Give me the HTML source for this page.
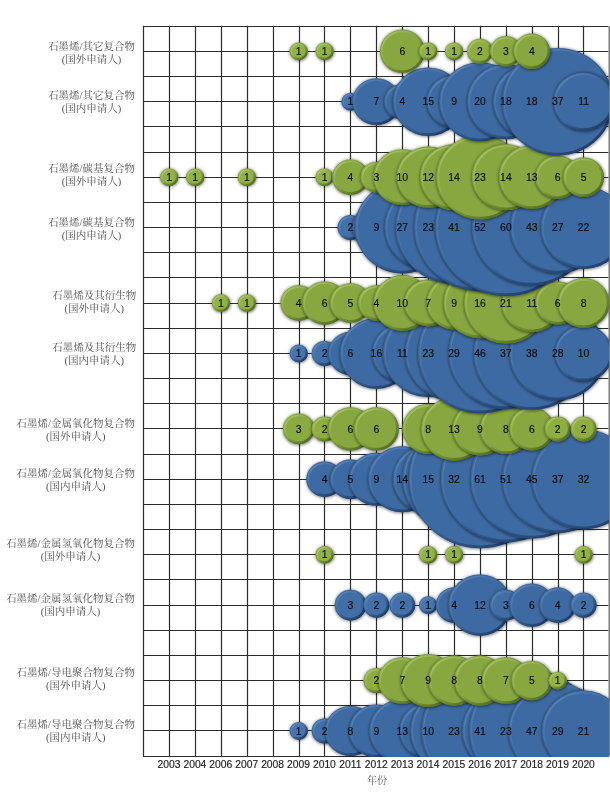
<!DOCTYPE html>
<html lang="zh"><head><meta charset="utf-8"><title>石墨烯复合物专利申请气泡图</title>
<style>html,body{margin:0;padding:0;background:#fff}body{width:610px;height:800px;overflow:hidden;font-family:"Liberation Sans",sans-serif}svg{display:block;will-change:transform}text{font-family:"Liberation Sans",sans-serif}.n{font-size:10.4px;fill:#0c0c0c;stroke:#0c0c0c;stroke-width:.14px;text-anchor:middle}.y{font-size:10.3px;fill:#1a1a1a;stroke:#1a1a1a;stroke-width:.15px;text-anchor:middle}.h{font-family:"Liberation Serif","Noto Serif CJK SC",serif;font-size:10.5px;fill:#505050}</style></head><body>
<svg width="610" height="800" viewBox="0 0 610 800">
<defs>
<linearGradient id="rb" x1="0.15" y1="0.12" x2="0.85" y2="0.88"><stop offset="0" stop-color="#86b0e2" stop-opacity="0.32"/><stop offset="0.3" stop-color="#6a98d0" stop-opacity="0.15"/><stop offset="0.45" stop-color="#3f6a9f" stop-opacity="0"/><stop offset="0.6" stop-color="#1e3f6e" stop-opacity="0.3"/><stop offset="1" stop-color="#1a3864" stop-opacity="0.85"/></linearGradient>
<linearGradient id="rg" x1="0.15" y1="0.12" x2="0.85" y2="0.88"><stop offset="0" stop-color="#cfe88a" stop-opacity="0.4"/><stop offset="0.3" stop-color="#b6d56c" stop-opacity="0.2"/><stop offset="0.45" stop-color="#83a043" stop-opacity="0"/><stop offset="0.6" stop-color="#52701e" stop-opacity="0.3"/><stop offset="1" stop-color="#4c681c" stop-opacity="0.85"/></linearGradient>
<filter id="bl" x="0" y="0" width="100%" height="100%" filterUnits="userSpaceOnUse"><feGaussianBlur stdDeviation="0.4"/></filter>
<filter id="sh" x="-20%" y="-20%" width="150%" height="150%"><feGaussianBlur stdDeviation="1.4"/></filter>
<clipPath id="cp"><rect x="143.60" y="26.15" width="464.90" height="729.93"/></clipPath>
</defs>
<rect width="610" height="800" fill="#fff"/>
<path d="M143.5 25.65V756.58M169.5 25.65V756.58M195.5 25.65V756.58M221.5 25.65V756.58M247.5 25.65V756.58M273.5 25.65V756.58M299.5 25.65V756.58M324.5 25.65V756.58M350.5 25.65V756.58M376.5 25.65V756.58M402.5 25.65V756.58M428.5 25.65V756.58M454.5 25.65V756.58M480.5 25.65V756.58M506.5 25.65V756.58M532.5 25.65V756.58M558.5 25.65V756.58M583.5 25.65V756.58M143.10 26.5H608.50M143.10 51.5H608.50M143.10 76.5H608.50M143.10 101.5H608.50M143.10 126.5H608.50M143.10 152.5H608.50M143.10 177.5H608.50M143.10 202.5H608.50M143.10 227.5H608.50M143.10 252.5H608.50M143.10 277.5H608.50M143.10 303.5H608.50M143.10 328.5H608.50M143.10 353.5H608.50M143.10 378.5H608.50M143.10 403.5H608.50M143.10 428.5H608.50M143.10 454.5H608.50M143.10 479.5H608.50M143.10 504.5H608.50M143.10 529.5H608.50M143.10 554.5H608.50M143.10 579.5H608.50M143.10 605.5H608.50M143.10 630.5H608.50M143.10 655.5H608.50M143.10 680.5H608.50M143.10 705.5H608.50M143.10 730.5H608.50M143.10 756.5H608.50" fill="none" stroke="#2b2b2b" stroke-width="1.2"/>
<path d="M609.30 26.15V756.08" stroke="#7c7c7c" stroke-width="1.6" fill="none"/>
<g clip-path="url(#cp)"><g filter="url(#bl)">
<ellipse cx="299.0" cy="731.4" rx="9.7" ry="9.4" fill="#000" opacity="0.5" filter="url(#sh)"/>
<ellipse cx="298.7" cy="730.9" rx="9.1" ry="8.8" fill="#4674ae"/>
<ellipse cx="298.7" cy="730.9" rx="7.88" ry="7.59" fill="none" stroke="url(#rb)" stroke-width="2.47"/>
<ellipse cx="298.7" cy="730.9" rx="8.67" ry="8.38" fill="none" stroke="#1d3a66" stroke-opacity="0.4" stroke-width="0.8"/>
<ellipse cx="324.9" cy="731.4" rx="13.5" ry="13.1" fill="#000" opacity="0.5" filter="url(#sh)"/>
<ellipse cx="324.6" cy="730.9" rx="12.9" ry="12.5" fill="#4371a9"/>
<ellipse cx="324.6" cy="730.9" rx="11.55" ry="11.14" fill="none" stroke="url(#rb)" stroke-width="2.70"/>
<ellipse cx="324.6" cy="730.9" rx="12.45" ry="12.04" fill="none" stroke="#1d3a66" stroke-opacity="0.4" stroke-width="0.8"/>
<ellipse cx="350.8" cy="731.4" rx="26.4" ry="25.6" fill="#000" opacity="0.5" filter="url(#sh)"/>
<ellipse cx="350.5" cy="730.9" rx="25.8" ry="25.0" fill="#3e6ba2"/>
<ellipse cx="350.5" cy="730.9" rx="24.45" ry="23.63" fill="none" stroke="url(#rb)" stroke-width="2.70"/>
<ellipse cx="350.5" cy="730.9" rx="25.35" ry="24.53" fill="none" stroke="#1d3a66" stroke-opacity="0.4" stroke-width="0.8"/>
<ellipse cx="376.7" cy="731.4" rx="28.0" ry="27.1" fill="#000" opacity="0.5" filter="url(#sh)"/>
<ellipse cx="376.4" cy="730.9" rx="27.4" ry="26.5" fill="#3e6ba2"/>
<ellipse cx="376.4" cy="730.9" rx="26.01" ry="25.14" fill="none" stroke="url(#rb)" stroke-width="2.70"/>
<ellipse cx="376.4" cy="730.9" rx="26.91" ry="26.04" fill="none" stroke="#1d3a66" stroke-opacity="0.4" stroke-width="0.8"/>
<ellipse cx="402.6" cy="731.4" rx="33.5" ry="32.4" fill="#000" opacity="0.5" filter="url(#sh)"/>
<ellipse cx="402.3" cy="730.9" rx="32.9" ry="31.8" fill="#3e6ba2"/>
<ellipse cx="402.3" cy="730.9" rx="31.53" ry="30.49" fill="none" stroke="url(#rb)" stroke-width="2.70"/>
<ellipse cx="402.3" cy="730.9" rx="32.43" ry="31.39" fill="none" stroke="#1d3a66" stroke-opacity="0.4" stroke-width="0.8"/>
<ellipse cx="428.5" cy="731.4" rx="29.4" ry="28.5" fill="#000" opacity="0.5" filter="url(#sh)"/>
<ellipse cx="428.2" cy="730.9" rx="28.8" ry="27.9" fill="#3e6ba2"/>
<ellipse cx="428.2" cy="730.9" rx="27.49" ry="26.57" fill="none" stroke="url(#rb)" stroke-width="2.70"/>
<ellipse cx="428.2" cy="730.9" rx="28.39" ry="27.47" fill="none" stroke="#1d3a66" stroke-opacity="0.4" stroke-width="0.8"/>
<ellipse cx="454.4" cy="731.4" rx="44.3" ry="42.9" fill="#000" opacity="0.5" filter="url(#sh)"/>
<ellipse cx="454.1" cy="730.9" rx="43.7" ry="42.3" fill="#3e6ba2"/>
<ellipse cx="454.1" cy="730.9" rx="42.39" ry="41.00" fill="none" stroke="url(#rb)" stroke-width="2.70"/>
<ellipse cx="454.1" cy="730.9" rx="43.29" ry="41.90" fill="none" stroke="#1d3a66" stroke-opacity="0.4" stroke-width="0.8"/>
<ellipse cx="480.3" cy="731.4" rx="59.0" ry="57.1" fill="#000" opacity="0.5" filter="url(#sh)"/>
<ellipse cx="480.0" cy="730.9" rx="58.4" ry="56.5" fill="#3e6ba2"/>
<ellipse cx="480.0" cy="730.9" rx="57.05" ry="55.19" fill="none" stroke="url(#rb)" stroke-width="2.70"/>
<ellipse cx="480.0" cy="730.9" rx="57.95" ry="56.09" fill="none" stroke="#1d3a66" stroke-opacity="0.4" stroke-width="0.8"/>
<ellipse cx="506.2" cy="731.4" rx="44.3" ry="42.9" fill="#000" opacity="0.5" filter="url(#sh)"/>
<ellipse cx="505.9" cy="730.9" rx="43.7" ry="42.3" fill="#3e6ba2"/>
<ellipse cx="505.9" cy="730.9" rx="42.39" ry="41.00" fill="none" stroke="url(#rb)" stroke-width="2.70"/>
<ellipse cx="505.9" cy="730.9" rx="43.29" ry="41.90" fill="none" stroke="#1d3a66" stroke-opacity="0.4" stroke-width="0.8"/>
<ellipse cx="532.1" cy="731.4" rx="63.1" ry="61.1" fill="#000" opacity="0.5" filter="url(#sh)"/>
<ellipse cx="531.8" cy="730.9" rx="62.5" ry="60.5" fill="#3e6ba2"/>
<ellipse cx="531.8" cy="730.9" rx="61.17" ry="59.19" fill="none" stroke="url(#rb)" stroke-width="2.70"/>
<ellipse cx="531.8" cy="730.9" rx="62.07" ry="60.09" fill="none" stroke="#1d3a66" stroke-opacity="0.4" stroke-width="0.8"/>
<ellipse cx="558.0" cy="731.4" rx="49.7" ry="48.2" fill="#000" opacity="0.5" filter="url(#sh)"/>
<ellipse cx="557.7" cy="730.9" rx="49.1" ry="47.6" fill="#3e6ba2"/>
<ellipse cx="557.7" cy="730.9" rx="47.76" ry="46.20" fill="none" stroke="url(#rb)" stroke-width="2.70"/>
<ellipse cx="557.7" cy="730.9" rx="48.66" ry="47.10" fill="none" stroke="#1d3a66" stroke-opacity="0.4" stroke-width="0.8"/>
<ellipse cx="583.9" cy="731.4" rx="42.4" ry="41.1" fill="#000" opacity="0.5" filter="url(#sh)"/>
<ellipse cx="583.6" cy="730.9" rx="41.8" ry="40.5" fill="#3e6ba2"/>
<ellipse cx="583.6" cy="730.9" rx="40.44" ry="39.11" fill="none" stroke="url(#rb)" stroke-width="2.70"/>
<ellipse cx="583.6" cy="730.9" rx="41.34" ry="40.01" fill="none" stroke="#1d3a66" stroke-opacity="0.4" stroke-width="0.8"/>
<ellipse cx="376.7" cy="681.1" rx="13.5" ry="13.1" fill="#000" opacity="0.5" filter="url(#sh)"/>
<ellipse cx="376.4" cy="680.6" rx="12.9" ry="12.5" fill="#8fad43"/>
<ellipse cx="376.4" cy="680.6" rx="11.55" ry="11.14" fill="none" stroke="url(#rg)" stroke-width="2.70"/>
<ellipse cx="376.4" cy="680.6" rx="12.45" ry="12.04" fill="none" stroke="#4f6a1e" stroke-opacity="0.4" stroke-width="0.8"/>
<ellipse cx="402.6" cy="681.1" rx="24.7" ry="24.0" fill="#000" opacity="0.5" filter="url(#sh)"/>
<ellipse cx="402.3" cy="680.6" rx="24.1" ry="23.4" fill="#89a740"/>
<ellipse cx="402.3" cy="680.6" rx="22.78" ry="22.01" fill="none" stroke="url(#rg)" stroke-width="2.70"/>
<ellipse cx="402.3" cy="680.6" rx="23.68" ry="22.91" fill="none" stroke="#4f6a1e" stroke-opacity="0.4" stroke-width="0.8"/>
<ellipse cx="428.5" cy="681.1" rx="28.0" ry="27.1" fill="#000" opacity="0.5" filter="url(#sh)"/>
<ellipse cx="428.2" cy="680.6" rx="27.4" ry="26.5" fill="#89a740"/>
<ellipse cx="428.2" cy="680.6" rx="26.01" ry="25.14" fill="none" stroke="url(#rg)" stroke-width="2.70"/>
<ellipse cx="428.2" cy="680.6" rx="26.91" ry="26.04" fill="none" stroke="#4f6a1e" stroke-opacity="0.4" stroke-width="0.8"/>
<ellipse cx="454.4" cy="681.1" rx="26.4" ry="25.6" fill="#000" opacity="0.5" filter="url(#sh)"/>
<ellipse cx="454.1" cy="680.6" rx="25.8" ry="25.0" fill="#89a740"/>
<ellipse cx="454.1" cy="680.6" rx="24.45" ry="23.63" fill="none" stroke="url(#rg)" stroke-width="2.70"/>
<ellipse cx="454.1" cy="680.6" rx="25.35" ry="24.53" fill="none" stroke="#4f6a1e" stroke-opacity="0.4" stroke-width="0.8"/>
<ellipse cx="480.3" cy="681.1" rx="26.4" ry="25.6" fill="#000" opacity="0.5" filter="url(#sh)"/>
<ellipse cx="480.0" cy="680.6" rx="25.8" ry="25.0" fill="#89a740"/>
<ellipse cx="480.0" cy="680.6" rx="24.45" ry="23.63" fill="none" stroke="url(#rg)" stroke-width="2.70"/>
<ellipse cx="480.0" cy="680.6" rx="25.35" ry="24.53" fill="none" stroke="#4f6a1e" stroke-opacity="0.4" stroke-width="0.8"/>
<ellipse cx="506.2" cy="681.1" rx="24.7" ry="24.0" fill="#000" opacity="0.5" filter="url(#sh)"/>
<ellipse cx="505.9" cy="680.6" rx="24.1" ry="23.4" fill="#89a740"/>
<ellipse cx="505.9" cy="680.6" rx="22.78" ry="22.01" fill="none" stroke="url(#rg)" stroke-width="2.70"/>
<ellipse cx="505.9" cy="680.6" rx="23.68" ry="22.91" fill="none" stroke="#4f6a1e" stroke-opacity="0.4" stroke-width="0.8"/>
<ellipse cx="532.1" cy="681.1" rx="21.0" ry="20.3" fill="#000" opacity="0.5" filter="url(#sh)"/>
<ellipse cx="531.8" cy="680.6" rx="20.4" ry="19.7" fill="#89a740"/>
<ellipse cx="531.8" cy="680.6" rx="19.04" ry="18.39" fill="none" stroke="url(#rg)" stroke-width="2.70"/>
<ellipse cx="531.8" cy="680.6" rx="19.94" ry="19.29" fill="none" stroke="#4f6a1e" stroke-opacity="0.4" stroke-width="0.8"/>
<ellipse cx="558.0" cy="681.1" rx="9.7" ry="9.4" fill="#000" opacity="0.5" filter="url(#sh)"/>
<ellipse cx="557.7" cy="680.6" rx="9.1" ry="8.8" fill="#92b146"/>
<ellipse cx="557.7" cy="680.6" rx="7.88" ry="7.59" fill="none" stroke="url(#rg)" stroke-width="2.47"/>
<ellipse cx="557.7" cy="680.6" rx="8.67" ry="8.38" fill="none" stroke="#4f6a1e" stroke-opacity="0.4" stroke-width="0.8"/>
<ellipse cx="350.8" cy="605.6" rx="16.4" ry="15.9" fill="#000" opacity="0.5" filter="url(#sh)"/>
<ellipse cx="350.5" cy="605.1" rx="15.8" ry="15.3" fill="#416ea5"/>
<ellipse cx="350.5" cy="605.1" rx="14.45" ry="13.94" fill="none" stroke="url(#rb)" stroke-width="2.70"/>
<ellipse cx="350.5" cy="605.1" rx="15.35" ry="14.84" fill="none" stroke="#1d3a66" stroke-opacity="0.4" stroke-width="0.8"/>
<ellipse cx="376.7" cy="605.6" rx="13.5" ry="13.1" fill="#000" opacity="0.5" filter="url(#sh)"/>
<ellipse cx="376.4" cy="605.1" rx="12.9" ry="12.5" fill="#4371a9"/>
<ellipse cx="376.4" cy="605.1" rx="11.55" ry="11.14" fill="none" stroke="url(#rb)" stroke-width="2.70"/>
<ellipse cx="376.4" cy="605.1" rx="12.45" ry="12.04" fill="none" stroke="#1d3a66" stroke-opacity="0.4" stroke-width="0.8"/>
<ellipse cx="402.6" cy="605.6" rx="13.5" ry="13.1" fill="#000" opacity="0.5" filter="url(#sh)"/>
<ellipse cx="402.3" cy="605.1" rx="12.9" ry="12.5" fill="#4371a9"/>
<ellipse cx="402.3" cy="605.1" rx="11.55" ry="11.14" fill="none" stroke="url(#rb)" stroke-width="2.70"/>
<ellipse cx="402.3" cy="605.1" rx="12.45" ry="12.04" fill="none" stroke="#1d3a66" stroke-opacity="0.4" stroke-width="0.8"/>
<ellipse cx="428.5" cy="605.6" rx="9.7" ry="9.4" fill="#000" opacity="0.5" filter="url(#sh)"/>
<ellipse cx="428.2" cy="605.1" rx="9.1" ry="8.8" fill="#4674ae"/>
<ellipse cx="428.2" cy="605.1" rx="7.88" ry="7.59" fill="none" stroke="url(#rb)" stroke-width="2.47"/>
<ellipse cx="428.2" cy="605.1" rx="8.67" ry="8.38" fill="none" stroke="#1d3a66" stroke-opacity="0.4" stroke-width="0.8"/>
<ellipse cx="454.4" cy="605.6" rx="18.8" ry="18.3" fill="#000" opacity="0.5" filter="url(#sh)"/>
<ellipse cx="454.1" cy="605.1" rx="18.2" ry="17.7" fill="#3e6ba2"/>
<ellipse cx="454.1" cy="605.1" rx="16.89" ry="16.31" fill="none" stroke="url(#rb)" stroke-width="2.70"/>
<ellipse cx="454.1" cy="605.1" rx="17.79" ry="17.21" fill="none" stroke="#1d3a66" stroke-opacity="0.4" stroke-width="0.8"/>
<ellipse cx="480.3" cy="605.6" rx="32.2" ry="31.2" fill="#000" opacity="0.5" filter="url(#sh)"/>
<ellipse cx="480.0" cy="605.1" rx="31.6" ry="30.6" fill="#3e6ba2"/>
<ellipse cx="480.0" cy="605.1" rx="30.24" ry="29.24" fill="none" stroke="url(#rb)" stroke-width="2.70"/>
<ellipse cx="480.0" cy="605.1" rx="31.14" ry="30.14" fill="none" stroke="#1d3a66" stroke-opacity="0.4" stroke-width="0.8"/>
<ellipse cx="506.2" cy="605.6" rx="16.4" ry="15.9" fill="#000" opacity="0.5" filter="url(#sh)"/>
<ellipse cx="505.9" cy="605.1" rx="15.8" ry="15.3" fill="#416ea5"/>
<ellipse cx="505.9" cy="605.1" rx="14.45" ry="13.94" fill="none" stroke="url(#rb)" stroke-width="2.70"/>
<ellipse cx="505.9" cy="605.1" rx="15.35" ry="14.84" fill="none" stroke="#1d3a66" stroke-opacity="0.4" stroke-width="0.8"/>
<ellipse cx="532.1" cy="605.6" rx="22.9" ry="22.2" fill="#000" opacity="0.5" filter="url(#sh)"/>
<ellipse cx="531.8" cy="605.1" rx="22.3" ry="21.6" fill="#3e6ba2"/>
<ellipse cx="531.8" cy="605.1" rx="20.99" ry="20.28" fill="none" stroke="url(#rb)" stroke-width="2.70"/>
<ellipse cx="531.8" cy="605.1" rx="21.89" ry="21.18" fill="none" stroke="#1d3a66" stroke-opacity="0.4" stroke-width="0.8"/>
<ellipse cx="558.0" cy="605.6" rx="18.8" ry="18.3" fill="#000" opacity="0.5" filter="url(#sh)"/>
<ellipse cx="557.7" cy="605.1" rx="18.2" ry="17.7" fill="#3e6ba2"/>
<ellipse cx="557.7" cy="605.1" rx="16.89" ry="16.31" fill="none" stroke="url(#rb)" stroke-width="2.70"/>
<ellipse cx="557.7" cy="605.1" rx="17.79" ry="17.21" fill="none" stroke="#1d3a66" stroke-opacity="0.4" stroke-width="0.8"/>
<ellipse cx="583.9" cy="605.6" rx="13.5" ry="13.1" fill="#000" opacity="0.5" filter="url(#sh)"/>
<ellipse cx="583.6" cy="605.1" rx="12.9" ry="12.5" fill="#4371a9"/>
<ellipse cx="583.6" cy="605.1" rx="11.55" ry="11.14" fill="none" stroke="url(#rb)" stroke-width="2.70"/>
<ellipse cx="583.6" cy="605.1" rx="12.45" ry="12.04" fill="none" stroke="#1d3a66" stroke-opacity="0.4" stroke-width="0.8"/>
<ellipse cx="324.9" cy="555.2" rx="9.7" ry="9.4" fill="#000" opacity="0.5" filter="url(#sh)"/>
<ellipse cx="324.6" cy="554.7" rx="9.1" ry="8.8" fill="#92b146"/>
<ellipse cx="324.6" cy="554.7" rx="7.88" ry="7.59" fill="none" stroke="url(#rg)" stroke-width="2.47"/>
<ellipse cx="324.6" cy="554.7" rx="8.67" ry="8.38" fill="none" stroke="#4f6a1e" stroke-opacity="0.4" stroke-width="0.8"/>
<ellipse cx="428.5" cy="555.2" rx="9.7" ry="9.4" fill="#000" opacity="0.5" filter="url(#sh)"/>
<ellipse cx="428.2" cy="554.7" rx="9.1" ry="8.8" fill="#92b146"/>
<ellipse cx="428.2" cy="554.7" rx="7.88" ry="7.59" fill="none" stroke="url(#rg)" stroke-width="2.47"/>
<ellipse cx="428.2" cy="554.7" rx="8.67" ry="8.38" fill="none" stroke="#4f6a1e" stroke-opacity="0.4" stroke-width="0.8"/>
<ellipse cx="454.4" cy="555.2" rx="9.7" ry="9.4" fill="#000" opacity="0.5" filter="url(#sh)"/>
<ellipse cx="454.1" cy="554.7" rx="9.1" ry="8.8" fill="#92b146"/>
<ellipse cx="454.1" cy="554.7" rx="7.88" ry="7.59" fill="none" stroke="url(#rg)" stroke-width="2.47"/>
<ellipse cx="454.1" cy="554.7" rx="8.67" ry="8.38" fill="none" stroke="#4f6a1e" stroke-opacity="0.4" stroke-width="0.8"/>
<ellipse cx="583.9" cy="555.2" rx="9.7" ry="9.4" fill="#000" opacity="0.5" filter="url(#sh)"/>
<ellipse cx="583.6" cy="554.7" rx="9.1" ry="8.8" fill="#92b146"/>
<ellipse cx="583.6" cy="554.7" rx="7.88" ry="7.59" fill="none" stroke="url(#rg)" stroke-width="2.47"/>
<ellipse cx="583.6" cy="554.7" rx="8.67" ry="8.38" fill="none" stroke="#4f6a1e" stroke-opacity="0.4" stroke-width="0.8"/>
<ellipse cx="324.9" cy="479.7" rx="18.8" ry="18.3" fill="#000" opacity="0.5" filter="url(#sh)"/>
<ellipse cx="324.6" cy="479.2" rx="18.2" ry="17.7" fill="#3e6ba2"/>
<ellipse cx="324.6" cy="479.2" rx="16.89" ry="16.31" fill="none" stroke="url(#rb)" stroke-width="2.70"/>
<ellipse cx="324.6" cy="479.2" rx="17.79" ry="17.21" fill="none" stroke="#1d3a66" stroke-opacity="0.4" stroke-width="0.8"/>
<ellipse cx="350.8" cy="479.7" rx="21.0" ry="20.3" fill="#000" opacity="0.5" filter="url(#sh)"/>
<ellipse cx="350.5" cy="479.2" rx="20.4" ry="19.7" fill="#3e6ba2"/>
<ellipse cx="350.5" cy="479.2" rx="19.04" ry="18.39" fill="none" stroke="url(#rb)" stroke-width="2.70"/>
<ellipse cx="350.5" cy="479.2" rx="19.94" ry="19.29" fill="none" stroke="#1d3a66" stroke-opacity="0.4" stroke-width="0.8"/>
<ellipse cx="376.7" cy="479.7" rx="28.0" ry="27.1" fill="#000" opacity="0.5" filter="url(#sh)"/>
<ellipse cx="376.4" cy="479.2" rx="27.4" ry="26.5" fill="#3e6ba2"/>
<ellipse cx="376.4" cy="479.2" rx="26.01" ry="25.14" fill="none" stroke="url(#rb)" stroke-width="2.70"/>
<ellipse cx="376.4" cy="479.2" rx="26.91" ry="26.04" fill="none" stroke="#1d3a66" stroke-opacity="0.4" stroke-width="0.8"/>
<ellipse cx="402.6" cy="479.7" rx="34.7" ry="33.6" fill="#000" opacity="0.5" filter="url(#sh)"/>
<ellipse cx="402.3" cy="479.2" rx="34.1" ry="33.0" fill="#3e6ba2"/>
<ellipse cx="402.3" cy="479.2" rx="32.77" ry="31.69" fill="none" stroke="url(#rb)" stroke-width="2.70"/>
<ellipse cx="402.3" cy="479.2" rx="33.67" ry="32.59" fill="none" stroke="#1d3a66" stroke-opacity="0.4" stroke-width="0.8"/>
<ellipse cx="428.5" cy="479.7" rx="35.9" ry="34.8" fill="#000" opacity="0.5" filter="url(#sh)"/>
<ellipse cx="428.2" cy="479.2" rx="35.3" ry="34.2" fill="#3e6ba2"/>
<ellipse cx="428.2" cy="479.2" rx="33.97" ry="32.85" fill="none" stroke="url(#rb)" stroke-width="2.70"/>
<ellipse cx="428.2" cy="479.2" rx="34.87" ry="33.75" fill="none" stroke="#1d3a66" stroke-opacity="0.4" stroke-width="0.8"/>
<ellipse cx="454.4" cy="479.7" rx="52.2" ry="50.6" fill="#000" opacity="0.5" filter="url(#sh)"/>
<ellipse cx="454.1" cy="479.2" rx="51.6" ry="50.0" fill="#3e6ba2"/>
<ellipse cx="454.1" cy="479.2" rx="50.24" ry="48.60" fill="none" stroke="url(#rb)" stroke-width="2.70"/>
<ellipse cx="454.1" cy="479.2" rx="51.14" ry="49.50" fill="none" stroke="#1d3a66" stroke-opacity="0.4" stroke-width="0.8"/>
<ellipse cx="480.3" cy="479.7" rx="71.8" ry="69.6" fill="#000" opacity="0.5" filter="url(#sh)"/>
<ellipse cx="480.0" cy="479.2" rx="71.2" ry="69.0" fill="#3e6ba2"/>
<ellipse cx="480.0" cy="479.2" rx="69.88" ry="67.61" fill="none" stroke="url(#rb)" stroke-width="2.70"/>
<ellipse cx="480.0" cy="479.2" rx="70.78" ry="68.51" fill="none" stroke="#1d3a66" stroke-opacity="0.4" stroke-width="0.8"/>
<ellipse cx="506.2" cy="479.7" rx="65.7" ry="63.7" fill="#000" opacity="0.5" filter="url(#sh)"/>
<ellipse cx="505.9" cy="479.2" rx="65.1" ry="63.1" fill="#3e6ba2"/>
<ellipse cx="505.9" cy="479.2" rx="63.78" ry="61.71" fill="none" stroke="url(#rb)" stroke-width="2.70"/>
<ellipse cx="505.9" cy="479.2" rx="64.68" ry="62.61" fill="none" stroke="#1d3a66" stroke-opacity="0.4" stroke-width="0.8"/>
<ellipse cx="532.1" cy="479.7" rx="61.8" ry="59.8" fill="#000" opacity="0.5" filter="url(#sh)"/>
<ellipse cx="531.8" cy="479.2" rx="61.2" ry="59.2" fill="#3e6ba2"/>
<ellipse cx="531.8" cy="479.2" rx="59.83" ry="57.88" fill="none" stroke="url(#rb)" stroke-width="2.70"/>
<ellipse cx="531.8" cy="479.2" rx="60.73" ry="58.78" fill="none" stroke="#1d3a66" stroke-opacity="0.4" stroke-width="0.8"/>
<ellipse cx="558.0" cy="479.7" rx="56.1" ry="54.3" fill="#000" opacity="0.5" filter="url(#sh)"/>
<ellipse cx="557.7" cy="479.2" rx="55.5" ry="53.7" fill="#3e6ba2"/>
<ellipse cx="557.7" cy="479.2" rx="54.12" ry="52.36" fill="none" stroke="url(#rb)" stroke-width="2.70"/>
<ellipse cx="557.7" cy="479.2" rx="55.02" ry="53.26" fill="none" stroke="#1d3a66" stroke-opacity="0.4" stroke-width="0.8"/>
<ellipse cx="583.9" cy="479.7" rx="52.2" ry="50.6" fill="#000" opacity="0.5" filter="url(#sh)"/>
<ellipse cx="583.6" cy="479.2" rx="51.6" ry="50.0" fill="#3e6ba2"/>
<ellipse cx="583.6" cy="479.2" rx="50.24" ry="48.60" fill="none" stroke="url(#rb)" stroke-width="2.70"/>
<ellipse cx="583.6" cy="479.2" rx="51.14" ry="49.50" fill="none" stroke="#1d3a66" stroke-opacity="0.4" stroke-width="0.8"/>
<ellipse cx="299.0" cy="429.4" rx="16.4" ry="15.9" fill="#000" opacity="0.5" filter="url(#sh)"/>
<ellipse cx="298.7" cy="428.9" rx="15.8" ry="15.3" fill="#8caa42"/>
<ellipse cx="298.7" cy="428.9" rx="14.45" ry="13.94" fill="none" stroke="url(#rg)" stroke-width="2.70"/>
<ellipse cx="298.7" cy="428.9" rx="15.35" ry="14.84" fill="none" stroke="#4f6a1e" stroke-opacity="0.4" stroke-width="0.8"/>
<ellipse cx="324.9" cy="429.4" rx="13.5" ry="13.1" fill="#000" opacity="0.5" filter="url(#sh)"/>
<ellipse cx="324.6" cy="428.9" rx="12.9" ry="12.5" fill="#8fad43"/>
<ellipse cx="324.6" cy="428.9" rx="11.55" ry="11.14" fill="none" stroke="url(#rg)" stroke-width="2.70"/>
<ellipse cx="324.6" cy="428.9" rx="12.45" ry="12.04" fill="none" stroke="#4f6a1e" stroke-opacity="0.4" stroke-width="0.8"/>
<ellipse cx="350.8" cy="429.4" rx="22.9" ry="22.2" fill="#000" opacity="0.5" filter="url(#sh)"/>
<ellipse cx="350.5" cy="428.9" rx="22.3" ry="21.6" fill="#89a740"/>
<ellipse cx="350.5" cy="428.9" rx="20.99" ry="20.28" fill="none" stroke="url(#rg)" stroke-width="2.70"/>
<ellipse cx="350.5" cy="428.9" rx="21.89" ry="21.18" fill="none" stroke="#4f6a1e" stroke-opacity="0.4" stroke-width="0.8"/>
<ellipse cx="376.7" cy="429.4" rx="22.9" ry="22.2" fill="#000" opacity="0.5" filter="url(#sh)"/>
<ellipse cx="376.4" cy="428.9" rx="22.3" ry="21.6" fill="#89a740"/>
<ellipse cx="376.4" cy="428.9" rx="20.99" ry="20.28" fill="none" stroke="url(#rg)" stroke-width="2.70"/>
<ellipse cx="376.4" cy="428.9" rx="21.89" ry="21.18" fill="none" stroke="#4f6a1e" stroke-opacity="0.4" stroke-width="0.8"/>
<ellipse cx="428.5" cy="429.4" rx="26.4" ry="25.6" fill="#000" opacity="0.5" filter="url(#sh)"/>
<ellipse cx="428.2" cy="428.9" rx="25.8" ry="25.0" fill="#89a740"/>
<ellipse cx="428.2" cy="428.9" rx="24.45" ry="23.63" fill="none" stroke="url(#rg)" stroke-width="2.70"/>
<ellipse cx="428.2" cy="428.9" rx="25.35" ry="24.53" fill="none" stroke="#4f6a1e" stroke-opacity="0.4" stroke-width="0.8"/>
<ellipse cx="454.4" cy="429.4" rx="33.5" ry="32.4" fill="#000" opacity="0.5" filter="url(#sh)"/>
<ellipse cx="454.1" cy="428.9" rx="32.9" ry="31.8" fill="#89a740"/>
<ellipse cx="454.1" cy="428.9" rx="31.53" ry="30.49" fill="none" stroke="url(#rg)" stroke-width="2.70"/>
<ellipse cx="454.1" cy="428.9" rx="32.43" ry="31.39" fill="none" stroke="#4f6a1e" stroke-opacity="0.4" stroke-width="0.8"/>
<ellipse cx="480.3" cy="429.4" rx="28.0" ry="27.1" fill="#000" opacity="0.5" filter="url(#sh)"/>
<ellipse cx="480.0" cy="428.9" rx="27.4" ry="26.5" fill="#89a740"/>
<ellipse cx="480.0" cy="428.9" rx="26.01" ry="25.14" fill="none" stroke="url(#rg)" stroke-width="2.70"/>
<ellipse cx="480.0" cy="428.9" rx="26.91" ry="26.04" fill="none" stroke="#4f6a1e" stroke-opacity="0.4" stroke-width="0.8"/>
<ellipse cx="506.2" cy="429.4" rx="26.4" ry="25.6" fill="#000" opacity="0.5" filter="url(#sh)"/>
<ellipse cx="505.9" cy="428.9" rx="25.8" ry="25.0" fill="#89a740"/>
<ellipse cx="505.9" cy="428.9" rx="24.45" ry="23.63" fill="none" stroke="url(#rg)" stroke-width="2.70"/>
<ellipse cx="505.9" cy="428.9" rx="25.35" ry="24.53" fill="none" stroke="#4f6a1e" stroke-opacity="0.4" stroke-width="0.8"/>
<ellipse cx="532.1" cy="429.4" rx="22.9" ry="22.2" fill="#000" opacity="0.5" filter="url(#sh)"/>
<ellipse cx="531.8" cy="428.9" rx="22.3" ry="21.6" fill="#89a740"/>
<ellipse cx="531.8" cy="428.9" rx="20.99" ry="20.28" fill="none" stroke="url(#rg)" stroke-width="2.70"/>
<ellipse cx="531.8" cy="428.9" rx="21.89" ry="21.18" fill="none" stroke="#4f6a1e" stroke-opacity="0.4" stroke-width="0.8"/>
<ellipse cx="558.0" cy="429.4" rx="13.5" ry="13.1" fill="#000" opacity="0.5" filter="url(#sh)"/>
<ellipse cx="557.7" cy="428.9" rx="12.9" ry="12.5" fill="#8fad43"/>
<ellipse cx="557.7" cy="428.9" rx="11.55" ry="11.14" fill="none" stroke="url(#rg)" stroke-width="2.70"/>
<ellipse cx="557.7" cy="428.9" rx="12.45" ry="12.04" fill="none" stroke="#4f6a1e" stroke-opacity="0.4" stroke-width="0.8"/>
<ellipse cx="583.9" cy="429.4" rx="13.5" ry="13.1" fill="#000" opacity="0.5" filter="url(#sh)"/>
<ellipse cx="583.6" cy="428.9" rx="12.9" ry="12.5" fill="#8fad43"/>
<ellipse cx="583.6" cy="428.9" rx="11.55" ry="11.14" fill="none" stroke="url(#rg)" stroke-width="2.70"/>
<ellipse cx="583.6" cy="428.9" rx="12.45" ry="12.04" fill="none" stroke="#4f6a1e" stroke-opacity="0.4" stroke-width="0.8"/>
<ellipse cx="299.0" cy="353.9" rx="9.7" ry="9.4" fill="#000" opacity="0.5" filter="url(#sh)"/>
<ellipse cx="298.7" cy="353.4" rx="9.1" ry="8.8" fill="#4674ae"/>
<ellipse cx="298.7" cy="353.4" rx="7.88" ry="7.59" fill="none" stroke="url(#rb)" stroke-width="2.47"/>
<ellipse cx="298.7" cy="353.4" rx="8.67" ry="8.38" fill="none" stroke="#1d3a66" stroke-opacity="0.4" stroke-width="0.8"/>
<ellipse cx="324.9" cy="353.9" rx="13.5" ry="13.1" fill="#000" opacity="0.5" filter="url(#sh)"/>
<ellipse cx="324.6" cy="353.4" rx="12.9" ry="12.5" fill="#4371a9"/>
<ellipse cx="324.6" cy="353.4" rx="11.55" ry="11.14" fill="none" stroke="url(#rb)" stroke-width="2.70"/>
<ellipse cx="324.6" cy="353.4" rx="12.45" ry="12.04" fill="none" stroke="#1d3a66" stroke-opacity="0.4" stroke-width="0.8"/>
<ellipse cx="350.8" cy="353.9" rx="22.9" ry="22.2" fill="#000" opacity="0.5" filter="url(#sh)"/>
<ellipse cx="350.5" cy="353.4" rx="22.3" ry="21.6" fill="#3e6ba2"/>
<ellipse cx="350.5" cy="353.4" rx="20.99" ry="20.28" fill="none" stroke="url(#rb)" stroke-width="2.70"/>
<ellipse cx="350.5" cy="353.4" rx="21.89" ry="21.18" fill="none" stroke="#1d3a66" stroke-opacity="0.4" stroke-width="0.8"/>
<ellipse cx="376.7" cy="353.9" rx="37.1" ry="35.9" fill="#000" opacity="0.5" filter="url(#sh)"/>
<ellipse cx="376.4" cy="353.4" rx="36.5" ry="35.3" fill="#3e6ba2"/>
<ellipse cx="376.4" cy="353.4" rx="35.13" ry="33.97" fill="none" stroke="url(#rb)" stroke-width="2.70"/>
<ellipse cx="376.4" cy="353.4" rx="36.03" ry="34.87" fill="none" stroke="#1d3a66" stroke-opacity="0.4" stroke-width="0.8"/>
<ellipse cx="402.6" cy="353.9" rx="30.8" ry="29.9" fill="#000" opacity="0.5" filter="url(#sh)"/>
<ellipse cx="402.3" cy="353.4" rx="30.2" ry="29.3" fill="#3e6ba2"/>
<ellipse cx="402.3" cy="353.4" rx="28.90" ry="27.94" fill="none" stroke="url(#rb)" stroke-width="2.70"/>
<ellipse cx="402.3" cy="353.4" rx="29.80" ry="28.84" fill="none" stroke="#1d3a66" stroke-opacity="0.4" stroke-width="0.8"/>
<ellipse cx="428.5" cy="353.9" rx="45.7" ry="44.3" fill="#000" opacity="0.5" filter="url(#sh)"/>
<ellipse cx="428.2" cy="353.4" rx="45.1" ry="43.7" fill="#3e6ba2"/>
<ellipse cx="428.2" cy="353.4" rx="43.79" ry="42.36" fill="none" stroke="url(#rb)" stroke-width="2.70"/>
<ellipse cx="428.2" cy="353.4" rx="44.69" ry="43.26" fill="none" stroke="#1d3a66" stroke-opacity="0.4" stroke-width="0.8"/>
<ellipse cx="454.4" cy="353.9" rx="49.7" ry="48.2" fill="#000" opacity="0.5" filter="url(#sh)"/>
<ellipse cx="454.1" cy="353.4" rx="49.1" ry="47.6" fill="#3e6ba2"/>
<ellipse cx="454.1" cy="353.4" rx="47.76" ry="46.20" fill="none" stroke="url(#rb)" stroke-width="2.70"/>
<ellipse cx="454.1" cy="353.4" rx="48.66" ry="47.10" fill="none" stroke="#1d3a66" stroke-opacity="0.4" stroke-width="0.8"/>
<ellipse cx="480.3" cy="353.9" rx="62.5" ry="60.5" fill="#000" opacity="0.5" filter="url(#sh)"/>
<ellipse cx="480.0" cy="353.4" rx="61.9" ry="59.9" fill="#3e6ba2"/>
<ellipse cx="480.0" cy="353.4" rx="60.50" ry="58.54" fill="none" stroke="url(#rb)" stroke-width="2.70"/>
<ellipse cx="480.0" cy="353.4" rx="61.40" ry="59.44" fill="none" stroke="#1d3a66" stroke-opacity="0.4" stroke-width="0.8"/>
<ellipse cx="506.2" cy="353.9" rx="57.9" ry="56.1" fill="#000" opacity="0.5" filter="url(#sh)"/>
<ellipse cx="505.9" cy="353.4" rx="57.3" ry="55.5" fill="#3e6ba2"/>
<ellipse cx="505.9" cy="353.4" rx="55.97" ry="54.15" fill="none" stroke="url(#rb)" stroke-width="2.70"/>
<ellipse cx="505.9" cy="353.4" rx="56.87" ry="55.05" fill="none" stroke="#1d3a66" stroke-opacity="0.4" stroke-width="0.8"/>
<ellipse cx="532.1" cy="353.9" rx="58.6" ry="56.8" fill="#000" opacity="0.5" filter="url(#sh)"/>
<ellipse cx="531.8" cy="353.4" rx="58.0" ry="56.2" fill="#3e6ba2"/>
<ellipse cx="531.8" cy="353.4" rx="56.69" ry="54.84" fill="none" stroke="url(#rb)" stroke-width="2.70"/>
<ellipse cx="531.8" cy="353.4" rx="57.59" ry="55.74" fill="none" stroke="#1d3a66" stroke-opacity="0.4" stroke-width="0.8"/>
<ellipse cx="558.0" cy="353.9" rx="48.9" ry="47.3" fill="#000" opacity="0.5" filter="url(#sh)"/>
<ellipse cx="557.7" cy="353.4" rx="48.3" ry="46.7" fill="#3e6ba2"/>
<ellipse cx="557.7" cy="353.4" rx="46.91" ry="45.37" fill="none" stroke="url(#rb)" stroke-width="2.70"/>
<ellipse cx="557.7" cy="353.4" rx="47.81" ry="46.27" fill="none" stroke="#1d3a66" stroke-opacity="0.4" stroke-width="0.8"/>
<ellipse cx="583.9" cy="353.9" rx="29.4" ry="28.5" fill="#000" opacity="0.5" filter="url(#sh)"/>
<ellipse cx="583.6" cy="353.4" rx="28.8" ry="27.9" fill="#3e6ba2"/>
<ellipse cx="583.6" cy="353.4" rx="27.49" ry="26.57" fill="none" stroke="url(#rb)" stroke-width="2.70"/>
<ellipse cx="583.6" cy="353.4" rx="28.39" ry="27.47" fill="none" stroke="#1d3a66" stroke-opacity="0.4" stroke-width="0.8"/>
<ellipse cx="221.3" cy="303.5" rx="9.7" ry="9.4" fill="#000" opacity="0.5" filter="url(#sh)"/>
<ellipse cx="221.0" cy="303.0" rx="9.1" ry="8.8" fill="#92b146"/>
<ellipse cx="221.0" cy="303.0" rx="7.88" ry="7.59" fill="none" stroke="url(#rg)" stroke-width="2.47"/>
<ellipse cx="221.0" cy="303.0" rx="8.67" ry="8.38" fill="none" stroke="#4f6a1e" stroke-opacity="0.4" stroke-width="0.8"/>
<ellipse cx="247.2" cy="303.5" rx="9.7" ry="9.4" fill="#000" opacity="0.5" filter="url(#sh)"/>
<ellipse cx="246.9" cy="303.0" rx="9.1" ry="8.8" fill="#92b146"/>
<ellipse cx="246.9" cy="303.0" rx="7.88" ry="7.59" fill="none" stroke="url(#rg)" stroke-width="2.47"/>
<ellipse cx="246.9" cy="303.0" rx="8.67" ry="8.38" fill="none" stroke="#4f6a1e" stroke-opacity="0.4" stroke-width="0.8"/>
<ellipse cx="299.0" cy="303.5" rx="18.8" ry="18.3" fill="#000" opacity="0.5" filter="url(#sh)"/>
<ellipse cx="298.7" cy="303.0" rx="18.2" ry="17.7" fill="#89a740"/>
<ellipse cx="298.7" cy="303.0" rx="16.89" ry="16.31" fill="none" stroke="url(#rg)" stroke-width="2.70"/>
<ellipse cx="298.7" cy="303.0" rx="17.79" ry="17.21" fill="none" stroke="#4f6a1e" stroke-opacity="0.4" stroke-width="0.8"/>
<ellipse cx="324.9" cy="303.5" rx="22.9" ry="22.2" fill="#000" opacity="0.5" filter="url(#sh)"/>
<ellipse cx="324.6" cy="303.0" rx="22.3" ry="21.6" fill="#89a740"/>
<ellipse cx="324.6" cy="303.0" rx="20.99" ry="20.28" fill="none" stroke="url(#rg)" stroke-width="2.70"/>
<ellipse cx="324.6" cy="303.0" rx="21.89" ry="21.18" fill="none" stroke="#4f6a1e" stroke-opacity="0.4" stroke-width="0.8"/>
<ellipse cx="350.8" cy="303.5" rx="21.0" ry="20.3" fill="#000" opacity="0.5" filter="url(#sh)"/>
<ellipse cx="350.5" cy="303.0" rx="20.4" ry="19.7" fill="#89a740"/>
<ellipse cx="350.5" cy="303.0" rx="19.04" ry="18.39" fill="none" stroke="url(#rg)" stroke-width="2.70"/>
<ellipse cx="350.5" cy="303.0" rx="19.94" ry="19.29" fill="none" stroke="#4f6a1e" stroke-opacity="0.4" stroke-width="0.8"/>
<ellipse cx="376.7" cy="303.5" rx="18.8" ry="18.3" fill="#000" opacity="0.5" filter="url(#sh)"/>
<ellipse cx="376.4" cy="303.0" rx="18.2" ry="17.7" fill="#89a740"/>
<ellipse cx="376.4" cy="303.0" rx="16.89" ry="16.31" fill="none" stroke="url(#rg)" stroke-width="2.70"/>
<ellipse cx="376.4" cy="303.0" rx="17.79" ry="17.21" fill="none" stroke="#4f6a1e" stroke-opacity="0.4" stroke-width="0.8"/>
<ellipse cx="402.6" cy="303.5" rx="29.4" ry="28.5" fill="#000" opacity="0.5" filter="url(#sh)"/>
<ellipse cx="402.3" cy="303.0" rx="28.8" ry="27.9" fill="#89a740"/>
<ellipse cx="402.3" cy="303.0" rx="27.49" ry="26.57" fill="none" stroke="url(#rg)" stroke-width="2.70"/>
<ellipse cx="402.3" cy="303.0" rx="28.39" ry="27.47" fill="none" stroke="#4f6a1e" stroke-opacity="0.4" stroke-width="0.8"/>
<ellipse cx="428.5" cy="303.5" rx="24.7" ry="24.0" fill="#000" opacity="0.5" filter="url(#sh)"/>
<ellipse cx="428.2" cy="303.0" rx="24.1" ry="23.4" fill="#89a740"/>
<ellipse cx="428.2" cy="303.0" rx="22.78" ry="22.01" fill="none" stroke="url(#rg)" stroke-width="2.70"/>
<ellipse cx="428.2" cy="303.0" rx="23.68" ry="22.91" fill="none" stroke="#4f6a1e" stroke-opacity="0.4" stroke-width="0.8"/>
<ellipse cx="454.4" cy="303.5" rx="28.0" ry="27.1" fill="#000" opacity="0.5" filter="url(#sh)"/>
<ellipse cx="454.1" cy="303.0" rx="27.4" ry="26.5" fill="#89a740"/>
<ellipse cx="454.1" cy="303.0" rx="26.01" ry="25.14" fill="none" stroke="url(#rg)" stroke-width="2.70"/>
<ellipse cx="454.1" cy="303.0" rx="26.91" ry="26.04" fill="none" stroke="#4f6a1e" stroke-opacity="0.4" stroke-width="0.8"/>
<ellipse cx="480.3" cy="303.5" rx="37.1" ry="35.9" fill="#000" opacity="0.5" filter="url(#sh)"/>
<ellipse cx="480.0" cy="303.0" rx="36.5" ry="35.3" fill="#89a740"/>
<ellipse cx="480.0" cy="303.0" rx="35.13" ry="33.97" fill="none" stroke="url(#rg)" stroke-width="2.70"/>
<ellipse cx="480.0" cy="303.0" rx="36.03" ry="34.87" fill="none" stroke="#4f6a1e" stroke-opacity="0.4" stroke-width="0.8"/>
<ellipse cx="506.2" cy="303.5" rx="42.4" ry="41.1" fill="#000" opacity="0.5" filter="url(#sh)"/>
<ellipse cx="505.9" cy="303.0" rx="41.8" ry="40.5" fill="#89a740"/>
<ellipse cx="505.9" cy="303.0" rx="40.44" ry="39.11" fill="none" stroke="url(#rg)" stroke-width="2.70"/>
<ellipse cx="505.9" cy="303.0" rx="41.34" ry="40.01" fill="none" stroke="#4f6a1e" stroke-opacity="0.4" stroke-width="0.8"/>
<ellipse cx="532.1" cy="303.5" rx="30.8" ry="29.9" fill="#000" opacity="0.5" filter="url(#sh)"/>
<ellipse cx="531.8" cy="303.0" rx="30.2" ry="29.3" fill="#89a740"/>
<ellipse cx="531.8" cy="303.0" rx="28.90" ry="27.94" fill="none" stroke="url(#rg)" stroke-width="2.70"/>
<ellipse cx="531.8" cy="303.0" rx="29.80" ry="28.84" fill="none" stroke="#4f6a1e" stroke-opacity="0.4" stroke-width="0.8"/>
<ellipse cx="558.0" cy="303.5" rx="22.9" ry="22.2" fill="#000" opacity="0.5" filter="url(#sh)"/>
<ellipse cx="557.7" cy="303.0" rx="22.3" ry="21.6" fill="#89a740"/>
<ellipse cx="557.7" cy="303.0" rx="20.99" ry="20.28" fill="none" stroke="url(#rg)" stroke-width="2.70"/>
<ellipse cx="557.7" cy="303.0" rx="21.89" ry="21.18" fill="none" stroke="#4f6a1e" stroke-opacity="0.4" stroke-width="0.8"/>
<ellipse cx="583.9" cy="303.5" rx="26.4" ry="25.6" fill="#000" opacity="0.5" filter="url(#sh)"/>
<ellipse cx="583.6" cy="303.0" rx="25.8" ry="25.0" fill="#89a740"/>
<ellipse cx="583.6" cy="303.0" rx="24.45" ry="23.63" fill="none" stroke="url(#rg)" stroke-width="2.70"/>
<ellipse cx="583.6" cy="303.0" rx="25.35" ry="24.53" fill="none" stroke="#4f6a1e" stroke-opacity="0.4" stroke-width="0.8"/>
<ellipse cx="350.8" cy="228.0" rx="13.5" ry="13.1" fill="#000" opacity="0.5" filter="url(#sh)"/>
<ellipse cx="350.5" cy="227.5" rx="12.9" ry="12.5" fill="#4371a9"/>
<ellipse cx="350.5" cy="227.5" rx="11.55" ry="11.14" fill="none" stroke="url(#rb)" stroke-width="2.70"/>
<ellipse cx="350.5" cy="227.5" rx="12.45" ry="12.04" fill="none" stroke="#1d3a66" stroke-opacity="0.4" stroke-width="0.8"/>
<ellipse cx="376.7" cy="228.0" rx="24.7" ry="24.0" fill="#000" opacity="0.5" filter="url(#sh)"/>
<ellipse cx="376.4" cy="227.5" rx="24.1" ry="23.4" fill="#3e6ba2"/>
<ellipse cx="376.4" cy="227.5" rx="22.78" ry="22.01" fill="none" stroke="url(#rb)" stroke-width="2.70"/>
<ellipse cx="376.4" cy="227.5" rx="23.68" ry="22.91" fill="none" stroke="#1d3a66" stroke-opacity="0.4" stroke-width="0.8"/>
<ellipse cx="402.6" cy="228.0" rx="48.0" ry="46.5" fill="#000" opacity="0.5" filter="url(#sh)"/>
<ellipse cx="402.3" cy="227.5" rx="47.4" ry="45.9" fill="#3e6ba2"/>
<ellipse cx="402.3" cy="227.5" rx="46.04" ry="44.53" fill="none" stroke="url(#rb)" stroke-width="2.70"/>
<ellipse cx="402.3" cy="227.5" rx="46.94" ry="45.43" fill="none" stroke="#1d3a66" stroke-opacity="0.4" stroke-width="0.8"/>
<ellipse cx="428.5" cy="228.0" rx="44.3" ry="42.9" fill="#000" opacity="0.5" filter="url(#sh)"/>
<ellipse cx="428.2" cy="227.5" rx="43.7" ry="42.3" fill="#3e6ba2"/>
<ellipse cx="428.2" cy="227.5" rx="42.39" ry="41.00" fill="none" stroke="url(#rb)" stroke-width="2.70"/>
<ellipse cx="428.2" cy="227.5" rx="43.29" ry="41.90" fill="none" stroke="#1d3a66" stroke-opacity="0.4" stroke-width="0.8"/>
<ellipse cx="454.4" cy="228.0" rx="59.0" ry="57.1" fill="#000" opacity="0.5" filter="url(#sh)"/>
<ellipse cx="454.1" cy="227.5" rx="58.4" ry="56.5" fill="#3e6ba2"/>
<ellipse cx="454.1" cy="227.5" rx="57.05" ry="55.19" fill="none" stroke="url(#rb)" stroke-width="2.70"/>
<ellipse cx="454.1" cy="227.5" rx="57.95" ry="56.09" fill="none" stroke="#1d3a66" stroke-opacity="0.4" stroke-width="0.8"/>
<ellipse cx="480.3" cy="228.0" rx="66.4" ry="64.3" fill="#000" opacity="0.5" filter="url(#sh)"/>
<ellipse cx="480.0" cy="227.5" rx="65.8" ry="63.7" fill="#3e6ba2"/>
<ellipse cx="480.0" cy="227.5" rx="64.42" ry="62.32" fill="none" stroke="url(#rb)" stroke-width="2.70"/>
<ellipse cx="480.0" cy="227.5" rx="65.32" ry="63.22" fill="none" stroke="#1d3a66" stroke-opacity="0.4" stroke-width="0.8"/>
<ellipse cx="506.2" cy="228.0" rx="71.2" ry="69.0" fill="#000" opacity="0.5" filter="url(#sh)"/>
<ellipse cx="505.9" cy="227.5" rx="70.6" ry="68.4" fill="#3e6ba2"/>
<ellipse cx="505.9" cy="227.5" rx="69.29" ry="67.05" fill="none" stroke="url(#rb)" stroke-width="2.70"/>
<ellipse cx="505.9" cy="227.5" rx="70.19" ry="67.95" fill="none" stroke="#1d3a66" stroke-opacity="0.4" stroke-width="0.8"/>
<ellipse cx="532.1" cy="228.0" rx="60.4" ry="58.5" fill="#000" opacity="0.5" filter="url(#sh)"/>
<ellipse cx="531.8" cy="227.5" rx="59.8" ry="57.9" fill="#3e6ba2"/>
<ellipse cx="531.8" cy="227.5" rx="58.45" ry="56.55" fill="none" stroke="url(#rb)" stroke-width="2.70"/>
<ellipse cx="531.8" cy="227.5" rx="59.35" ry="57.45" fill="none" stroke="#1d3a66" stroke-opacity="0.4" stroke-width="0.8"/>
<ellipse cx="558.0" cy="228.0" rx="48.0" ry="46.5" fill="#000" opacity="0.5" filter="url(#sh)"/>
<ellipse cx="557.7" cy="227.5" rx="47.4" ry="45.9" fill="#3e6ba2"/>
<ellipse cx="557.7" cy="227.5" rx="46.04" ry="44.53" fill="none" stroke="url(#rb)" stroke-width="2.70"/>
<ellipse cx="557.7" cy="227.5" rx="46.94" ry="45.43" fill="none" stroke="#1d3a66" stroke-opacity="0.4" stroke-width="0.8"/>
<ellipse cx="583.9" cy="228.0" rx="43.4" ry="42.0" fill="#000" opacity="0.5" filter="url(#sh)"/>
<ellipse cx="583.6" cy="227.5" rx="42.8" ry="41.4" fill="#3e6ba2"/>
<ellipse cx="583.6" cy="227.5" rx="41.43" ry="40.07" fill="none" stroke="url(#rb)" stroke-width="2.70"/>
<ellipse cx="583.6" cy="227.5" rx="42.33" ry="40.97" fill="none" stroke="#1d3a66" stroke-opacity="0.4" stroke-width="0.8"/>
<ellipse cx="169.5" cy="177.7" rx="9.7" ry="9.4" fill="#000" opacity="0.5" filter="url(#sh)"/>
<ellipse cx="169.2" cy="177.2" rx="9.1" ry="8.8" fill="#92b146"/>
<ellipse cx="169.2" cy="177.2" rx="7.88" ry="7.59" fill="none" stroke="url(#rg)" stroke-width="2.47"/>
<ellipse cx="169.2" cy="177.2" rx="8.67" ry="8.38" fill="none" stroke="#4f6a1e" stroke-opacity="0.4" stroke-width="0.8"/>
<ellipse cx="195.4" cy="177.7" rx="9.7" ry="9.4" fill="#000" opacity="0.5" filter="url(#sh)"/>
<ellipse cx="195.1" cy="177.2" rx="9.1" ry="8.8" fill="#92b146"/>
<ellipse cx="195.1" cy="177.2" rx="7.88" ry="7.59" fill="none" stroke="url(#rg)" stroke-width="2.47"/>
<ellipse cx="195.1" cy="177.2" rx="8.67" ry="8.38" fill="none" stroke="#4f6a1e" stroke-opacity="0.4" stroke-width="0.8"/>
<ellipse cx="247.2" cy="177.7" rx="9.7" ry="9.4" fill="#000" opacity="0.5" filter="url(#sh)"/>
<ellipse cx="246.9" cy="177.2" rx="9.1" ry="8.8" fill="#92b146"/>
<ellipse cx="246.9" cy="177.2" rx="7.88" ry="7.59" fill="none" stroke="url(#rg)" stroke-width="2.47"/>
<ellipse cx="246.9" cy="177.2" rx="8.67" ry="8.38" fill="none" stroke="#4f6a1e" stroke-opacity="0.4" stroke-width="0.8"/>
<ellipse cx="324.9" cy="177.7" rx="9.7" ry="9.4" fill="#000" opacity="0.5" filter="url(#sh)"/>
<ellipse cx="324.6" cy="177.2" rx="9.1" ry="8.8" fill="#92b146"/>
<ellipse cx="324.6" cy="177.2" rx="7.88" ry="7.59" fill="none" stroke="url(#rg)" stroke-width="2.47"/>
<ellipse cx="324.6" cy="177.2" rx="8.67" ry="8.38" fill="none" stroke="#4f6a1e" stroke-opacity="0.4" stroke-width="0.8"/>
<ellipse cx="350.8" cy="177.7" rx="18.8" ry="18.3" fill="#000" opacity="0.5" filter="url(#sh)"/>
<ellipse cx="350.5" cy="177.2" rx="18.2" ry="17.7" fill="#89a740"/>
<ellipse cx="350.5" cy="177.2" rx="16.89" ry="16.31" fill="none" stroke="url(#rg)" stroke-width="2.70"/>
<ellipse cx="350.5" cy="177.2" rx="17.79" ry="17.21" fill="none" stroke="#4f6a1e" stroke-opacity="0.4" stroke-width="0.8"/>
<ellipse cx="376.7" cy="177.7" rx="16.4" ry="15.9" fill="#000" opacity="0.5" filter="url(#sh)"/>
<ellipse cx="376.4" cy="177.2" rx="15.8" ry="15.3" fill="#8caa42"/>
<ellipse cx="376.4" cy="177.2" rx="14.45" ry="13.94" fill="none" stroke="url(#rg)" stroke-width="2.70"/>
<ellipse cx="376.4" cy="177.2" rx="15.35" ry="14.84" fill="none" stroke="#4f6a1e" stroke-opacity="0.4" stroke-width="0.8"/>
<ellipse cx="402.6" cy="177.7" rx="29.4" ry="28.5" fill="#000" opacity="0.5" filter="url(#sh)"/>
<ellipse cx="402.3" cy="177.2" rx="28.8" ry="27.9" fill="#89a740"/>
<ellipse cx="402.3" cy="177.2" rx="27.49" ry="26.57" fill="none" stroke="url(#rg)" stroke-width="2.70"/>
<ellipse cx="402.3" cy="177.2" rx="28.39" ry="27.47" fill="none" stroke="#4f6a1e" stroke-opacity="0.4" stroke-width="0.8"/>
<ellipse cx="428.5" cy="177.7" rx="32.2" ry="31.2" fill="#000" opacity="0.5" filter="url(#sh)"/>
<ellipse cx="428.2" cy="177.2" rx="31.6" ry="30.6" fill="#89a740"/>
<ellipse cx="428.2" cy="177.2" rx="30.24" ry="29.24" fill="none" stroke="url(#rg)" stroke-width="2.70"/>
<ellipse cx="428.2" cy="177.2" rx="31.14" ry="30.14" fill="none" stroke="#4f6a1e" stroke-opacity="0.4" stroke-width="0.8"/>
<ellipse cx="454.4" cy="177.7" rx="34.7" ry="33.6" fill="#000" opacity="0.5" filter="url(#sh)"/>
<ellipse cx="454.1" cy="177.2" rx="34.1" ry="33.0" fill="#89a740"/>
<ellipse cx="454.1" cy="177.2" rx="32.77" ry="31.69" fill="none" stroke="url(#rg)" stroke-width="2.70"/>
<ellipse cx="454.1" cy="177.2" rx="33.67" ry="32.59" fill="none" stroke="#4f6a1e" stroke-opacity="0.4" stroke-width="0.8"/>
<ellipse cx="480.3" cy="177.7" rx="44.3" ry="42.9" fill="#000" opacity="0.5" filter="url(#sh)"/>
<ellipse cx="480.0" cy="177.2" rx="43.7" ry="42.3" fill="#89a740"/>
<ellipse cx="480.0" cy="177.2" rx="42.39" ry="41.00" fill="none" stroke="url(#rg)" stroke-width="2.70"/>
<ellipse cx="480.0" cy="177.2" rx="43.29" ry="41.90" fill="none" stroke="#4f6a1e" stroke-opacity="0.4" stroke-width="0.8"/>
<ellipse cx="506.2" cy="177.7" rx="34.7" ry="33.6" fill="#000" opacity="0.5" filter="url(#sh)"/>
<ellipse cx="505.9" cy="177.2" rx="34.1" ry="33.0" fill="#89a740"/>
<ellipse cx="505.9" cy="177.2" rx="32.77" ry="31.69" fill="none" stroke="url(#rg)" stroke-width="2.70"/>
<ellipse cx="505.9" cy="177.2" rx="33.67" ry="32.59" fill="none" stroke="#4f6a1e" stroke-opacity="0.4" stroke-width="0.8"/>
<ellipse cx="532.1" cy="177.7" rx="33.5" ry="32.4" fill="#000" opacity="0.5" filter="url(#sh)"/>
<ellipse cx="531.8" cy="177.2" rx="32.9" ry="31.8" fill="#89a740"/>
<ellipse cx="531.8" cy="177.2" rx="31.53" ry="30.49" fill="none" stroke="url(#rg)" stroke-width="2.70"/>
<ellipse cx="531.8" cy="177.2" rx="32.43" ry="31.39" fill="none" stroke="#4f6a1e" stroke-opacity="0.4" stroke-width="0.8"/>
<ellipse cx="558.0" cy="177.7" rx="22.9" ry="22.2" fill="#000" opacity="0.5" filter="url(#sh)"/>
<ellipse cx="557.7" cy="177.2" rx="22.3" ry="21.6" fill="#89a740"/>
<ellipse cx="557.7" cy="177.2" rx="20.99" ry="20.28" fill="none" stroke="url(#rg)" stroke-width="2.70"/>
<ellipse cx="557.7" cy="177.2" rx="21.89" ry="21.18" fill="none" stroke="#4f6a1e" stroke-opacity="0.4" stroke-width="0.8"/>
<ellipse cx="583.9" cy="177.7" rx="21.0" ry="20.3" fill="#000" opacity="0.5" filter="url(#sh)"/>
<ellipse cx="583.6" cy="177.2" rx="20.4" ry="19.7" fill="#89a740"/>
<ellipse cx="583.6" cy="177.2" rx="19.04" ry="18.39" fill="none" stroke="url(#rg)" stroke-width="2.70"/>
<ellipse cx="583.6" cy="177.2" rx="19.94" ry="19.29" fill="none" stroke="#4f6a1e" stroke-opacity="0.4" stroke-width="0.8"/>
<ellipse cx="350.8" cy="102.2" rx="9.7" ry="9.4" fill="#000" opacity="0.5" filter="url(#sh)"/>
<ellipse cx="350.5" cy="101.7" rx="9.1" ry="8.8" fill="#4674ae"/>
<ellipse cx="350.5" cy="101.7" rx="7.88" ry="7.59" fill="none" stroke="url(#rb)" stroke-width="2.47"/>
<ellipse cx="350.5" cy="101.7" rx="8.67" ry="8.38" fill="none" stroke="#1d3a66" stroke-opacity="0.4" stroke-width="0.8"/>
<ellipse cx="376.7" cy="102.2" rx="24.7" ry="24.0" fill="#000" opacity="0.5" filter="url(#sh)"/>
<ellipse cx="376.4" cy="101.7" rx="24.1" ry="23.4" fill="#3e6ba2"/>
<ellipse cx="376.4" cy="101.7" rx="22.78" ry="22.01" fill="none" stroke="url(#rb)" stroke-width="2.70"/>
<ellipse cx="376.4" cy="101.7" rx="23.68" ry="22.91" fill="none" stroke="#1d3a66" stroke-opacity="0.4" stroke-width="0.8"/>
<ellipse cx="402.6" cy="102.2" rx="18.8" ry="18.3" fill="#000" opacity="0.5" filter="url(#sh)"/>
<ellipse cx="402.3" cy="101.7" rx="18.2" ry="17.7" fill="#3e6ba2"/>
<ellipse cx="402.3" cy="101.7" rx="16.89" ry="16.31" fill="none" stroke="url(#rb)" stroke-width="2.70"/>
<ellipse cx="402.3" cy="101.7" rx="17.79" ry="17.21" fill="none" stroke="#1d3a66" stroke-opacity="0.4" stroke-width="0.8"/>
<ellipse cx="428.5" cy="102.2" rx="35.9" ry="34.8" fill="#000" opacity="0.5" filter="url(#sh)"/>
<ellipse cx="428.2" cy="101.7" rx="35.3" ry="34.2" fill="#3e6ba2"/>
<ellipse cx="428.2" cy="101.7" rx="33.97" ry="32.85" fill="none" stroke="url(#rb)" stroke-width="2.70"/>
<ellipse cx="428.2" cy="101.7" rx="34.87" ry="33.75" fill="none" stroke="#1d3a66" stroke-opacity="0.4" stroke-width="0.8"/>
<ellipse cx="454.4" cy="102.2" rx="28.0" ry="27.1" fill="#000" opacity="0.5" filter="url(#sh)"/>
<ellipse cx="454.1" cy="101.7" rx="27.4" ry="26.5" fill="#3e6ba2"/>
<ellipse cx="454.1" cy="101.7" rx="26.01" ry="25.14" fill="none" stroke="url(#rb)" stroke-width="2.70"/>
<ellipse cx="454.1" cy="101.7" rx="26.91" ry="26.04" fill="none" stroke="#1d3a66" stroke-opacity="0.4" stroke-width="0.8"/>
<ellipse cx="480.3" cy="102.2" rx="41.4" ry="40.1" fill="#000" opacity="0.5" filter="url(#sh)"/>
<ellipse cx="480.0" cy="101.7" rx="40.8" ry="39.5" fill="#3e6ba2"/>
<ellipse cx="480.0" cy="101.7" rx="39.44" ry="38.14" fill="none" stroke="url(#rb)" stroke-width="2.70"/>
<ellipse cx="480.0" cy="101.7" rx="40.34" ry="39.04" fill="none" stroke="#1d3a66" stroke-opacity="0.4" stroke-width="0.8"/>
<ellipse cx="506.2" cy="102.2" rx="39.3" ry="38.1" fill="#000" opacity="0.5" filter="url(#sh)"/>
<ellipse cx="505.9" cy="101.7" rx="38.7" ry="37.5" fill="#3e6ba2"/>
<ellipse cx="505.9" cy="101.7" rx="37.34" ry="36.11" fill="none" stroke="url(#rb)" stroke-width="2.70"/>
<ellipse cx="505.9" cy="101.7" rx="38.24" ry="37.01" fill="none" stroke="#1d3a66" stroke-opacity="0.4" stroke-width="0.8"/>
<ellipse cx="532.1" cy="102.2" rx="39.3" ry="38.1" fill="#000" opacity="0.5" filter="url(#sh)"/>
<ellipse cx="531.8" cy="101.7" rx="38.7" ry="37.5" fill="#3e6ba2"/>
<ellipse cx="531.8" cy="101.7" rx="37.34" ry="36.11" fill="none" stroke="url(#rb)" stroke-width="2.70"/>
<ellipse cx="531.8" cy="101.7" rx="38.24" ry="37.01" fill="none" stroke="#1d3a66" stroke-opacity="0.4" stroke-width="0.8"/>
<ellipse cx="558.0" cy="102.2" rx="56.1" ry="54.3" fill="#000" opacity="0.5" filter="url(#sh)"/>
<ellipse cx="557.7" cy="101.7" rx="55.5" ry="53.7" fill="#3e6ba2"/>
<ellipse cx="557.7" cy="101.7" rx="54.12" ry="52.36" fill="none" stroke="url(#rb)" stroke-width="2.70"/>
<ellipse cx="557.7" cy="101.7" rx="55.02" ry="53.26" fill="none" stroke="#1d3a66" stroke-opacity="0.4" stroke-width="0.8"/>
<ellipse cx="583.9" cy="102.2" rx="30.8" ry="29.9" fill="#000" opacity="0.5" filter="url(#sh)"/>
<ellipse cx="583.6" cy="101.7" rx="30.2" ry="29.3" fill="#3e6ba2"/>
<ellipse cx="583.6" cy="101.7" rx="28.90" ry="27.94" fill="none" stroke="url(#rb)" stroke-width="2.70"/>
<ellipse cx="583.6" cy="101.7" rx="29.80" ry="28.84" fill="none" stroke="#1d3a66" stroke-opacity="0.4" stroke-width="0.8"/>
<ellipse cx="299.0" cy="51.8" rx="9.7" ry="9.4" fill="#000" opacity="0.5" filter="url(#sh)"/>
<ellipse cx="298.7" cy="51.3" rx="9.1" ry="8.8" fill="#92b146"/>
<ellipse cx="298.7" cy="51.3" rx="7.88" ry="7.59" fill="none" stroke="url(#rg)" stroke-width="2.47"/>
<ellipse cx="298.7" cy="51.3" rx="8.67" ry="8.38" fill="none" stroke="#4f6a1e" stroke-opacity="0.4" stroke-width="0.8"/>
<ellipse cx="324.9" cy="51.8" rx="9.7" ry="9.4" fill="#000" opacity="0.5" filter="url(#sh)"/>
<ellipse cx="324.6" cy="51.3" rx="9.1" ry="8.8" fill="#92b146"/>
<ellipse cx="324.6" cy="51.3" rx="7.88" ry="7.59" fill="none" stroke="url(#rg)" stroke-width="2.47"/>
<ellipse cx="324.6" cy="51.3" rx="8.67" ry="8.38" fill="none" stroke="#4f6a1e" stroke-opacity="0.4" stroke-width="0.8"/>
<ellipse cx="402.6" cy="51.8" rx="22.9" ry="22.2" fill="#000" opacity="0.5" filter="url(#sh)"/>
<ellipse cx="402.3" cy="51.3" rx="22.3" ry="21.6" fill="#89a740"/>
<ellipse cx="402.3" cy="51.3" rx="20.99" ry="20.28" fill="none" stroke="url(#rg)" stroke-width="2.70"/>
<ellipse cx="402.3" cy="51.3" rx="21.89" ry="21.18" fill="none" stroke="#4f6a1e" stroke-opacity="0.4" stroke-width="0.8"/>
<ellipse cx="428.5" cy="51.8" rx="9.7" ry="9.4" fill="#000" opacity="0.5" filter="url(#sh)"/>
<ellipse cx="428.2" cy="51.3" rx="9.1" ry="8.8" fill="#92b146"/>
<ellipse cx="428.2" cy="51.3" rx="7.88" ry="7.59" fill="none" stroke="url(#rg)" stroke-width="2.47"/>
<ellipse cx="428.2" cy="51.3" rx="8.67" ry="8.38" fill="none" stroke="#4f6a1e" stroke-opacity="0.4" stroke-width="0.8"/>
<ellipse cx="454.4" cy="51.8" rx="9.7" ry="9.4" fill="#000" opacity="0.5" filter="url(#sh)"/>
<ellipse cx="454.1" cy="51.3" rx="9.1" ry="8.8" fill="#92b146"/>
<ellipse cx="454.1" cy="51.3" rx="7.88" ry="7.59" fill="none" stroke="url(#rg)" stroke-width="2.47"/>
<ellipse cx="454.1" cy="51.3" rx="8.67" ry="8.38" fill="none" stroke="#4f6a1e" stroke-opacity="0.4" stroke-width="0.8"/>
<ellipse cx="480.3" cy="51.8" rx="13.5" ry="13.1" fill="#000" opacity="0.5" filter="url(#sh)"/>
<ellipse cx="480.0" cy="51.3" rx="12.9" ry="12.5" fill="#8fad43"/>
<ellipse cx="480.0" cy="51.3" rx="11.55" ry="11.14" fill="none" stroke="url(#rg)" stroke-width="2.70"/>
<ellipse cx="480.0" cy="51.3" rx="12.45" ry="12.04" fill="none" stroke="#4f6a1e" stroke-opacity="0.4" stroke-width="0.8"/>
<ellipse cx="506.2" cy="51.8" rx="16.4" ry="15.9" fill="#000" opacity="0.5" filter="url(#sh)"/>
<ellipse cx="505.9" cy="51.3" rx="15.8" ry="15.3" fill="#8caa42"/>
<ellipse cx="505.9" cy="51.3" rx="14.45" ry="13.94" fill="none" stroke="url(#rg)" stroke-width="2.70"/>
<ellipse cx="505.9" cy="51.3" rx="15.35" ry="14.84" fill="none" stroke="#4f6a1e" stroke-opacity="0.4" stroke-width="0.8"/>
<ellipse cx="532.1" cy="51.8" rx="18.8" ry="18.3" fill="#000" opacity="0.5" filter="url(#sh)"/>
<ellipse cx="531.8" cy="51.3" rx="18.2" ry="17.7" fill="#89a740"/>
<ellipse cx="531.8" cy="51.3" rx="16.89" ry="16.31" fill="none" stroke="url(#rg)" stroke-width="2.70"/>
<ellipse cx="531.8" cy="51.3" rx="17.79" ry="17.21" fill="none" stroke="#4f6a1e" stroke-opacity="0.4" stroke-width="0.8"/>
</g></g>
<g class="n">
<text x="298.7" y="55.0">1</text>
<text x="324.6" y="55.0">1</text>
<text x="402.3" y="55.0">6</text>
<text x="428.2" y="55.0">1</text>
<text x="454.1" y="55.0">1</text>
<text x="480.0" y="55.0">2</text>
<text x="505.9" y="55.0">3</text>
<text x="531.8" y="55.0">4</text>
<text x="350.5" y="105.3">1</text>
<text x="376.4" y="105.3">7</text>
<text x="402.3" y="105.3">4</text>
<text x="428.2" y="105.3">15</text>
<text x="454.1" y="105.3">9</text>
<text x="480.0" y="105.3">20</text>
<text x="505.9" y="105.3">18</text>
<text x="531.8" y="105.3">18</text>
<text x="557.7" y="105.3">37</text>
<text x="583.6" y="105.3">11</text>
<text x="169.2" y="180.8">1</text>
<text x="195.1" y="180.8">1</text>
<text x="246.9" y="180.8">1</text>
<text x="324.6" y="180.8">1</text>
<text x="350.5" y="180.8">4</text>
<text x="376.4" y="180.8">3</text>
<text x="402.3" y="180.8">10</text>
<text x="428.2" y="180.8">12</text>
<text x="454.1" y="180.8">14</text>
<text x="480.0" y="180.8">23</text>
<text x="505.9" y="180.8">14</text>
<text x="531.8" y="180.8">13</text>
<text x="557.7" y="180.8">6</text>
<text x="583.6" y="180.8">5</text>
<text x="350.5" y="231.2">2</text>
<text x="376.4" y="231.2">9</text>
<text x="402.3" y="231.2">27</text>
<text x="428.2" y="231.2">23</text>
<text x="454.1" y="231.2">41</text>
<text x="480.0" y="231.2">52</text>
<text x="505.9" y="231.2">60</text>
<text x="531.8" y="231.2">43</text>
<text x="557.7" y="231.2">27</text>
<text x="583.6" y="231.2">22</text>
<text x="221.0" y="306.7">1</text>
<text x="246.9" y="306.7">1</text>
<text x="298.7" y="306.7">4</text>
<text x="324.6" y="306.7">6</text>
<text x="350.5" y="306.7">5</text>
<text x="376.4" y="306.7">4</text>
<text x="402.3" y="306.7">10</text>
<text x="428.2" y="306.7">7</text>
<text x="454.1" y="306.7">9</text>
<text x="480.0" y="306.7">16</text>
<text x="505.9" y="306.7">21</text>
<text x="531.8" y="306.7">11</text>
<text x="557.7" y="306.7">6</text>
<text x="583.6" y="306.7">8</text>
<text x="298.7" y="357.0">1</text>
<text x="324.6" y="357.0">2</text>
<text x="350.5" y="357.0">6</text>
<text x="376.4" y="357.0">16</text>
<text x="402.3" y="357.0">11</text>
<text x="428.2" y="357.0">23</text>
<text x="454.1" y="357.0">29</text>
<text x="480.0" y="357.0">46</text>
<text x="505.9" y="357.0">37</text>
<text x="531.8" y="357.0">38</text>
<text x="557.7" y="357.0">28</text>
<text x="583.6" y="357.0">10</text>
<text x="298.7" y="432.5">3</text>
<text x="324.6" y="432.5">2</text>
<text x="350.5" y="432.5">6</text>
<text x="376.4" y="432.5">6</text>
<text x="428.2" y="432.5">8</text>
<text x="454.1" y="432.5">13</text>
<text x="480.0" y="432.5">9</text>
<text x="505.9" y="432.5">8</text>
<text x="531.8" y="432.5">6</text>
<text x="557.7" y="432.5">2</text>
<text x="583.6" y="432.5">2</text>
<text x="324.6" y="482.9">4</text>
<text x="350.5" y="482.9">5</text>
<text x="376.4" y="482.9">9</text>
<text x="402.3" y="482.9">14</text>
<text x="428.2" y="482.9">15</text>
<text x="454.1" y="482.9">32</text>
<text x="480.0" y="482.9">61</text>
<text x="505.9" y="482.9">51</text>
<text x="531.8" y="482.9">45</text>
<text x="557.7" y="482.9">37</text>
<text x="583.6" y="482.9">32</text>
<text x="324.6" y="558.4">1</text>
<text x="428.2" y="558.4">1</text>
<text x="454.1" y="558.4">1</text>
<text x="583.6" y="558.4">1</text>
<text x="350.5" y="608.7">3</text>
<text x="376.4" y="608.7">2</text>
<text x="402.3" y="608.7">2</text>
<text x="428.2" y="608.7">1</text>
<text x="454.1" y="608.7">4</text>
<text x="480.0" y="608.7">12</text>
<text x="505.9" y="608.7">3</text>
<text x="531.8" y="608.7">6</text>
<text x="557.7" y="608.7">4</text>
<text x="583.6" y="608.7">2</text>
<text x="376.4" y="684.2">2</text>
<text x="402.3" y="684.2">7</text>
<text x="428.2" y="684.2">9</text>
<text x="454.1" y="684.2">8</text>
<text x="480.0" y="684.2">8</text>
<text x="505.9" y="684.2">7</text>
<text x="531.8" y="684.2">5</text>
<text x="557.7" y="684.2">1</text>
<text x="298.7" y="734.6">1</text>
<text x="324.6" y="734.6">2</text>
<text x="350.5" y="734.6">8</text>
<text x="376.4" y="734.6">9</text>
<text x="402.3" y="734.6">13</text>
<text x="428.2" y="734.6">10</text>
<text x="454.1" y="734.6">23</text>
<text x="480.0" y="734.6">41</text>
<text x="505.9" y="734.6">23</text>
<text x="531.8" y="734.6">47</text>
<text x="557.7" y="734.6">29</text>
<text x="583.6" y="734.6">21</text>
</g>
<g class="y">
<text x="169.0" y="767.6">2003</text>
<text x="194.9" y="767.6">2004</text>
<text x="220.8" y="767.6">2006</text>
<text x="246.7" y="767.6">2007</text>
<text x="272.6" y="767.6">2008</text>
<text x="298.5" y="767.6">2009</text>
<text x="324.4" y="767.6">2010</text>
<text x="350.3" y="767.6">2011</text>
<text x="376.2" y="767.6">2012</text>
<text x="402.1" y="767.6">2013</text>
<text x="428.0" y="767.6">2014</text>
<text x="453.9" y="767.6">2015</text>
<text x="479.8" y="767.6">2016</text>
<text x="505.7" y="767.6">2017</text>
<text x="531.6" y="767.6">2018</text>
<text x="557.5" y="767.6">2019</text>
<text x="583.4" y="767.6">2020</text>
</g>
<text class="h" x="91.6" y="50.0" text-anchor="middle">石墨烯/其它复合物</text><text class="h" x="91.6" y="63.0" text-anchor="middle">(国外申请人)</text>
<text class="h" x="91.6" y="99.2" text-anchor="middle">石墨烯/其它复合物</text><text class="h" x="91.6" y="112.2" text-anchor="middle">(国内申请人)</text>
<text class="h" x="91.6" y="172.4" text-anchor="middle">石墨烯/碳基复合物</text><text class="h" x="91.6" y="185.4" text-anchor="middle">(国外申请人)</text>
<text class="h" x="91.6" y="225.8" text-anchor="middle">石墨烯/碳基复合物</text><text class="h" x="91.6" y="238.8" text-anchor="middle">(国内申请人)</text>
<text class="h" x="94.2" y="299.2" text-anchor="middle">石墨烯及其衍生物</text><text class="h" x="94.2" y="312.2" text-anchor="middle">(国外申请人)</text>
<text class="h" x="94.2" y="350.8" text-anchor="middle">石墨烯及其衍生物</text><text class="h" x="94.2" y="363.8" text-anchor="middle">(国内申请人)</text>
<text class="h" x="75.8" y="427.4" text-anchor="middle">石墨烯/金属氧化物复合物</text><text class="h" x="75.8" y="440.4" text-anchor="middle">(国外申请人)</text>
<text class="h" x="75.8" y="477.0" text-anchor="middle">石墨烯/金属氧化物复合物</text><text class="h" x="75.8" y="490.0" text-anchor="middle">(国内申请人)</text>
<text class="h" x="70.6" y="547.4" text-anchor="middle">石墨烯/金属氢氧化物复合物</text><text class="h" x="70.6" y="560.4" text-anchor="middle">(国外申请人)</text>
<text class="h" x="70.6" y="602.0" text-anchor="middle">石墨烯/金属氢氧化物复合物</text><text class="h" x="70.6" y="615.0" text-anchor="middle">(国内申请人)</text>
<text class="h" x="75.8" y="676.1" text-anchor="middle">石墨烯/导电聚合物复合物</text><text class="h" x="75.8" y="689.1" text-anchor="middle">(国外申请人)</text>
<text class="h" x="75.8" y="727.8" text-anchor="middle">石墨烯/导电聚合物复合物</text><text class="h" x="75.8" y="740.8" text-anchor="middle">(国内申请人)</text>
<text class="h" x="377" y="783.5" text-anchor="middle" style="font-size:10px;fill:#5a5a5a">年份</text>
</svg></body></html>
